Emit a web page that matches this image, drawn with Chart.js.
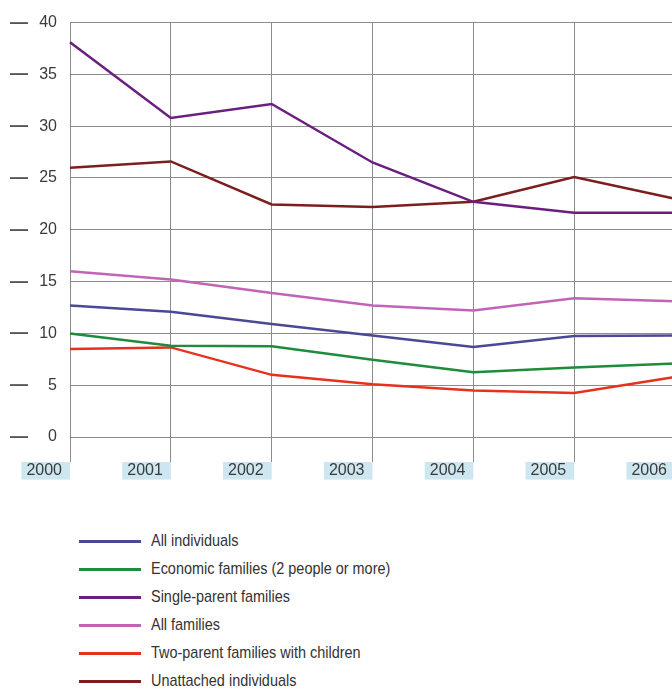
<!DOCTYPE html>
<html>
<head>
<meta charset="utf-8">
<script src="https://cdn.jsdelivr.net/npm/chart.js@4"></script>
<style>
  html, body { margin: 0; padding: 0; background: #fff; width: 672px; height: 688px; overflow: hidden; }
  #wrap { position: relative; width: 700px; height: 490px; }
  #legend { list-style: none; margin: 0; padding: 0; position: absolute; left: 0; top: 527px;
            font-family: "Liberation Sans", Arial, sans-serif; font-size: 17px; color: #333; }
  #legend li { height: 28px; display: flex; align-items: center; white-space: nowrap; }
  #legend .sw { display: inline-block; width: 62px; height: 3px; margin-left: 79px; margin-right: 10px; }
  #legend .txt { display: inline-block; transform: scaleX(0.85); transform-origin: left center; }
</style>
</head>
<body>
<div id="wrap"><canvas id="myChart" width="700" height="490"></canvas></div>
<ul id="legend"></ul>
<script>
const years = ["2000", "2001", "2002", "2003", "2004", "2005", "2006"];
const yTicks = [0, 5, 10, 15, 20, 25, 30, 35, 40];

const seriesNames = [
    "All individuals",
    "Economic families (2 people or more)",
    "Single-parent families",
    "All families",
    "Two-parent families with children",
    "Unattached individuals"
];
const allIndividuals = [12.7, 12.1, 10.9, 9.8, 8.7, 9.75, 9.8];
const economicFamilies = [10.0, 8.8, 8.75, 7.45, 6.25, 6.7, 7.1];
const singleParent = [38.1, 30.8, 32.15, 26.5, 22.7, 21.65, 21.65];
const allFamilies = [16.0, 15.2, 13.9, 12.7, 12.2, 13.4, 13.1];
const twoParent = [8.5, 8.65, 6.0, 5.1, 4.5, 4.25, 5.8];
const unattached = [26.0, 26.6, 22.45, 22.2, 22.7, 25.1, 23.0];

const seriesColors = ["#4b4895", "#1f8b3b", "#6a1f80", "#c264b6", "#e5321f", "#7b1e1e"];
const seriesValues = [allIndividuals, economicFamilies, singleParent, allFamilies, twoParent, unattached];

const gridColor = "#8c8c8c";
const tickFont = { family: "'Liberation Sans', Arial, sans-serif", size: 16 };

function armarDatasets() {
    return seriesNames.map((name, i) => ({
        label: name,
        data: seriesValues[i],
        borderColor: seriesColors[i],
        backgroundColor: seriesColors[i],
        borderWidth: 2.5,
        pointRadius: 0,
        tension: 0,
        fill: false
    }));
}

function fixTicks(scale) {
    scale.ticks = yTicks.map((v) => ({ value: v }));
}

const config = {
    type: "line",
    data: { labels: years, datasets: armarDatasets() },
    options: {
        responsive: false,
        animation: false,
        layout: { padding: { top: 20, right: 25, bottom: 10, left: 0 } },
        plugins: { legend: { display: false }, tooltip: { enabled: false } },
        scales: {
            x: {
                type: "category",
                offset: false,
                grid: { color: gridColor, lineWidth: 1, tickLength: 25, drawTicks: true },
                border: { color: gridColor },
                ticks: {
                    align: "end",
                    padding: 0,
                    maxRotation: 0,
                    autoSkip: false,
                    color: "#3a3a3a",
                    font: { family: tickFont.family, size: 16, lineHeight: 1.1 },
                    showLabelBackdrop: true,
                    backdropColor: "#cde6ef",
                    backdropPadding: { top: 0, bottom: 0, left: 5, right: 0 },
                    callback: function (val, idx) { return years[idx] + "\u2002"; }
                },
                afterFit: (scale) => { scale.height = 43; }
            },
            y: {
                position: "left",
                min: 0,
                max: 40,
                weight: 0,
                grid: { color: gridColor, lineWidth: 1, drawTicks: false },
                border: { color: gridColor },
                afterBuildTicks: fixTicks,
                ticks: { padding: 13, color: "#3a3a3a", font: tickFont },
                afterFit: (scale) => { scale.width = 40; }
            },
            dash: {
                position: "left",
                min: 0,
                max: 40,
                weight: 1,
                grid: { display: false },
                border: { display: false },
                afterBuildTicks: fixTicks,
                ticks: { padding: -6, color: "#555", font: { family: tickFont.family, size: 18, weight: "bold" }, callback: () => "\u2014" },
                afterFit: (scale) => { scale.width = 30; }
            }
        }
    }
};

const chart = new Chart(document.getElementById("myChart"), config);

// leyenda en columna, hecha desde los datasets del grafico
const legendUl = document.getElementById("legend");
chart.data.datasets.forEach((ds) => {
    const li = document.createElement("li");
    const sw = document.createElement("span");
    sw.className = "sw";
    sw.style.background = ds.borderColor;
    const txt = document.createElement("span");
    txt.className = "txt";
    txt.textContent = ds.label;
    li.appendChild(sw);
    li.appendChild(txt);
    legendUl.appendChild(li);
});
</script>
</body>
</html>
